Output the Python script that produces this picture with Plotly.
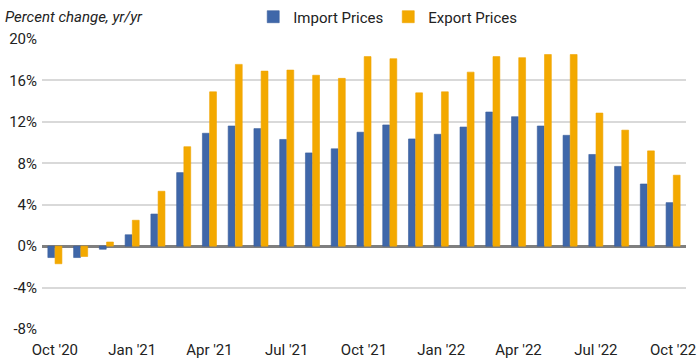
import plotly.graph_objects as go

months = ["Oct '20", "Nov '20", "Dec '20", "Jan '21", "Feb '21", "Mar '21", "Apr '21", "May '21",
          "Jun '21", "Jul '21", "Aug '21", "Sep '21", "Oct '21", "Nov '21", "Dec '21", "Jan '22",
          "Feb '22", "Mar '22", "Apr '22", "May '22", "Jun '22", "Jul '22", "Aug '22", "Sep '22", "Oct '22"]
import_prices = [-1.1, -1.1, -0.3, 1.1, 3.1, 7.1, 10.9, 11.6, 11.35, 10.3, 9.0, 9.4, 11.0,
                 11.7, 10.35, 10.8, 11.5, 12.95, 12.5, 11.6, 10.7, 8.85, 7.7, 6.0, 4.2]
export_prices = [-1.7, -1.0, 0.4, 2.5, 5.3, 9.6, 14.9, 17.55, 16.9, 17.0, 16.5, 16.2, 18.3,
                 18.1, 14.8, 14.9, 16.8, 18.3, 18.2, 18.5, 18.5, 12.85, 11.2, 9.2, 6.85]
tick_labels = ["Oct '20", "Jan '21", "Apr '21", "Jul '21", "Oct '21", "Jan '22", "Apr '22", "Jul '22", "Oct '22"]
y_ticks = [-8, -4, 0, 4, 8, 12, 16, 20]

FONT = "Roboto, Liberation Sans, sans-serif"

fig = go.Figure()
fig.add_trace(go.Bar(x=months, y=import_prices, name="Import Prices",
                     marker=dict(color="#3F67A9", line=dict(color="#3A5E9C", width=0.6))))
fig.add_trace(go.Bar(x=months, y=export_prices, name="Export Prices",
                     marker=dict(color="#F3A900", line=dict(color="#F0A500", width=0.6))))

fig.update_layout(
    width=700, height=364,
    margin=dict(l=42, r=14, t=39, b=35, autoexpand=False),
    paper_bgcolor="white", plot_bgcolor="white",
    barmode="group", bargap=0.44, bargroupgap=0.05,
    font=dict(family=FONT, size=15, color="#222222"),
    showlegend=True,
    legend=dict(orientation="h", x=0.328, xanchor="left", y=1.076, yanchor="middle",
                font=dict(family=FONT, size=15, color="#222222"),
                itemwidth=30, traceorder="normal", bgcolor="rgba(0,0,0,0)"),
    annotations=[dict(text="<i>Percent change, yr/yr</i>", xref="paper", yref="paper",
                      x=-0.06, y=1.076, xanchor="left", yanchor="middle", showarrow=False,
                      font=dict(family=FONT, size=15, color="#222222"))],
)
fig.update_xaxes(type="category", tickmode="array", tickvals=tick_labels, ticktext=tick_labels,
                 showgrid=False, showline=False, ticks="", tickfont=dict(size=15),
                 ticklabelstandoff=10)
fig.update_yaxes(range=[-8, 20], tickvals=y_ticks, ticktext=[f"{v}%" for v in y_ticks],
                 showgrid=True, gridcolor="#D9D9D9", gridwidth=1.5,
                 zeroline=True, zerolinecolor="#7F7F7F", zerolinewidth=2.5,
                 showline=False, ticks="", tickfont=dict(size=15), ticklabelstandoff=4)

fig.write_html("out.html", config={"displayModeBar": False},
               post_script="document.body.style.margin='0';")
